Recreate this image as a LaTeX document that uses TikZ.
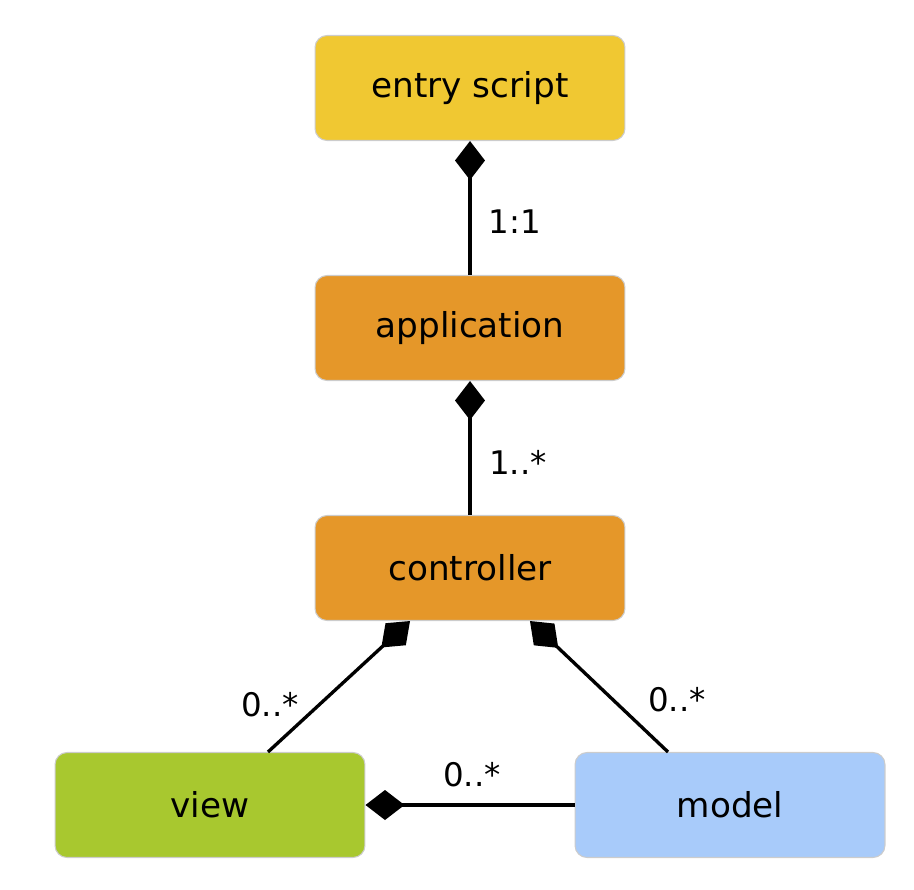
\documentclass[tikz,border=0pt]{standalone}
\usepackage{fontspec}
\setmainfont{DejaVu Sans}
\usetikzlibrary{arrows.meta}
\definecolor{entrycolor}{RGB}{240,200,50}
\definecolor{appcolor}{RGB}{229,151,41}
\definecolor{viewcolor}{RGB}{168,200,47}
\definecolor{modelcolor}{RGB}{168,203,250}
\tikzset{
    umlbox/.style={
        draw=gray!40, line width=0.6pt,
        rounded corners=0.24cm,
        minimum width=6.2cm, minimum height=2.1cm,
        font=\fontsize{19.5}{23}\selectfont,
    },
    composes/.style={
        line width=1.9pt,
        {Diamond[length=0.78cm,width=0.6cm]}-,
    },
    multlabel/.style={font=\fontsize{18.5}{22}\selectfont},
}
\begin{document}
\begin{tikzpicture}
        [x=0.02cm,y=-0.02cm]
\useasboundingbox (0,0) rectangle (914,890);
% the classes
\node[umlbox,fill=entrycolor] (entry) at (470,88) {entry script};
\node[umlbox,fill=appcolor] (app) at (470,328) {application};
\node[umlbox,fill=appcolor] (ctrl) at (470,568) {controller};
\node[umlbox,fill=viewcolor] (view) at (210,805) {view};
\node[umlbox,fill=modelcolor] (model) at (730,805) {model};
% compositions
\draw[composes] (entry.south) -- (app.north);
\draw[composes] (app.south) -- (ctrl.north);
\draw[composes] ([xshift=-1.2cm]ctrl.south) -- ([xshift=1.16cm]view.north);
\draw[composes] ([xshift=1.2cm]ctrl.south) -- ([xshift=-1.24cm]model.north);
\draw[composes] (view.east) -- (model.west);
% multiplicities
\node[multlabel] (m1) at (515,222) {1:1};
\node[multlabel] (m2) at (518,462) {1..*};
\node[multlabel] (m3) at (270,705) {0..*};
\node[multlabel] (m4) at (677,700) {0..*};
\node[multlabel] (m5) at (472,775) {0..*};
\end{tikzpicture}
\end{document}
